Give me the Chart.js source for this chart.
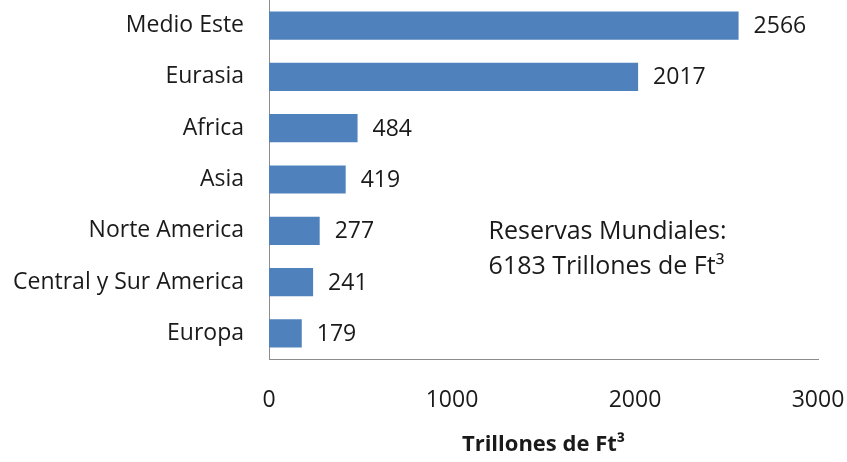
<!DOCTYPE html>
<html>
<head>
<meta charset="utf-8">
<script src="https://cdn.jsdelivr.net/npm/chart.js@4/dist/chart.umd.min.js"></script>
<style>
  html, body { margin: 0; padding: 0; background: #fff; }
  #wrap { width: 847px; height: 462px; }
</style>
</head>
<body>
<div id="wrap"><canvas id="mycanvas"></canvas></div>
<script>
var regions = ["Medio Este", "Eurasia", "Africa", "Asia", "Norte America", "Central y Sur America", "Europa"];
var reserves = [2566, 2017, 484, 419, 277, 241, 179];
var xTicks = [0, 1000, 2000, 3000];
var noteLines = ["Reservas Mundiales:", "6183 Trillones de Ft\u00b3"];
var axisTitle = "Trillones de Ft\u00b3";

var FONT = "'Open Sans', sans-serif";
var TEXT = "#1a1a1a";

var labelPlugin = {
    id: "labels",
    afterDatasetsDraw: function(chart){
        var ctx = chart.ctx;
        var meta = chart.getDatasetMeta(0);
        ctx.save();
        ctx.font = "23px " + FONT;
        ctx.fillStyle = TEXT;
        ctx.textBaseline = "middle";
        ctx.textAlign = "left";
        meta.data.forEach(function(bar, i){
            ctx.fillText(String(reserves[i]), bar.x + 15, bar.y + 1);
        });
        // note text
        var xs = chart.scales.x, ys = chart.scales.y;
        var nx = xs.getPixelForValue(1200);
        var ny = ys.getPixelForValue(4);
        ctx.font = "25px " + FONT;
        ctx.fillText(noteLines[0], nx, ny + 1);
        ctx.fillText(noteLines[1], nx, ny + 36);
        ctx.restore();
    }
};

var chrt = document.getElementById("mycanvas").getContext("2d");
new Chart(chrt, {
    type: "bar",
    data: {
        labels: regions,
        datasets: [{
            data: reserves,
            backgroundColor: "#4f81bd",
            categoryPercentage: 1,
            barPercentage: 0.55
        }]
    },
    options: {
        indexAxis: "y",
        responsive: true,
        maintainAspectRatio: false,
        animation: false,
        layout: { padding: { top: 0, right: 29, left: 0, bottom: 0 } },
        plugins: { legend: { display: false }, tooltip: { enabled: false } },
        scales: {
            x: {
                min: 0, max: 3000,
                afterBuildTicks: function(axis){ axis.ticks = xTicks.map(function(v){ return { value: v }; }); },
                grid: { display: false, drawTicks: false },
                border: { display: true, color: "#8c8c8c", width: 1 },
                ticks: { font: { family: FONT, size: 23 }, color: TEXT, padding: 28, maxRotation: 0,
                         callback: function(v){ return String(v); } },
                title: { display: true, text: axisTitle, font: { family: FONT, size: 22, weight: "bold" }, color: TEXT, padding: { top: 9 } },
                afterFit: function(axis){ axis.height = 103; axis.paddingLeft = 0; axis.paddingRight = 0; }
            },
            y: {
                grid: { display: false, drawTicks: false },
                border: { display: true, color: "#8c8c8c", width: 1 },
                ticks: { font: { family: FONT, size: 23 }, color: TEXT, padding: 25 },
                afterFit: function(axis){ axis.width = 269; axis.paddingTop = 0; axis.paddingBottom = 0; }
            }
        }
    },
    plugins: [labelPlugin]
});
</script>
</body>
</html>
